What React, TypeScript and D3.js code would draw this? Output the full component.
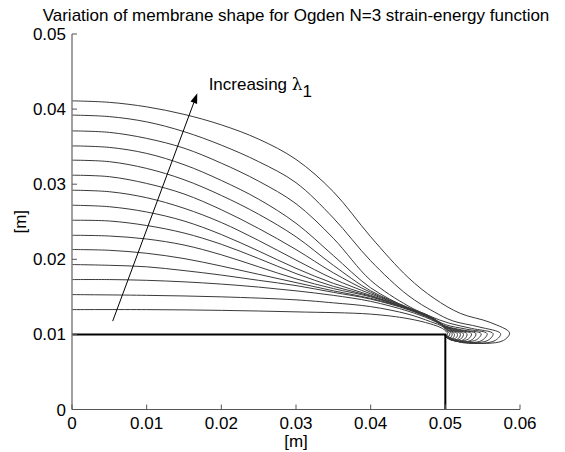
import React from 'react';
import * as d3 from 'd3';

const W = 565;
const H = 452;

const titleText = 'Variation of membrane shape for Ogden N=3 strain-energy function';
const xTicks = [0, 0.01, 0.02, 0.03, 0.04, 0.05, 0.06];
const xTickLabels = ['0', '0.01', '0.02', '0.03', '0.04', '0.05', '0.06'];
const yTicks = [0, 0.01, 0.02, 0.03, 0.04, 0.05];
const yTickLabels = ['0', '0.01', '0.02', '0.03', '0.04', '0.05'];

// clamped base: radius 0.05 at height 0.01
const clampLine: [number, number][] = [[0, 0.01], [0.05, 0.01], [0.05, 0]];
const arrowStart: [number, number] = [0.00545, 0.01177];
const arrowEnd: [number, number] = [0.01678, 0.0421];
const annotationPos: [number, number] = [0.0183, 0.0434];

// membrane profiles (r, z), highest lambda_1 last
const shape15: [number, number][] = [[0,0.0411],[0.005,0.0409],[0.01,0.0403],[0.015,0.0393],[0.02,0.0379],[0.025,0.036],[0.03,0.0333],[0.035,0.029],[0.04,0.023],[0.045,0.0176],[0.0485,0.0148],[0.052,0.0128],[0.056,0.0116],[0.0586,0.0102],[0.0578,0.0092],[0.0555,0.0088],[0.0525,0.009],[0.0506,0.0096],[0.05,0.01]];
const shape14: [number, number][] = [[0,0.0392],[0.005,0.039],[0.01,0.0383],[0.015,0.037],[0.02,0.0352],[0.025,0.033],[0.03,0.0302],[0.035,0.0255],[0.04,0.0198],[0.045,0.0152],[0.0485,0.013],[0.051,0.0118],[0.0545,0.011],[0.0574,0.0101],[0.0567,0.0092],[0.0545,0.0088],[0.0518,0.009],[0.0505,0.0096],[0.05,0.01]];
const shape13: [number, number][] = [[0,0.0371],[0.005,0.0369],[0.01,0.0361],[0.015,0.0348],[0.02,0.0328],[0.025,0.0304],[0.03,0.0274],[0.035,0.0228],[0.04,0.0172],[0.045,0.0138],[0.048,0.0124],[0.0505,0.0115],[0.0535,0.0108],[0.0564,0.0101],[0.0557,0.0092],[0.0538,0.0089],[0.0515,0.0091],[0.0504,0.0096],[0.05,0.01]];
const shape12: [number, number][] = [[0,0.0351],[0.005,0.0349],[0.01,0.0341],[0.015,0.0326],[0.02,0.0305],[0.025,0.028],[0.03,0.0248],[0.035,0.0205],[0.04,0.0162],[0.045,0.0135],[0.048,0.0123],[0.05,0.0113],[0.0528,0.0107],[0.0556,0.0101],[0.0549,0.0092],[0.0532,0.0089],[0.0512,0.0092],[0.0503,0.0096],[0.05,0.01]];
const shape11: [number, number][] = [[0,0.0332],[0.005,0.033],[0.01,0.0321],[0.015,0.0306],[0.02,0.0285],[0.025,0.026],[0.03,0.023],[0.035,0.0192],[0.04,0.0158],[0.045,0.0136],[0.048,0.0124],[0.0498,0.0112],[0.0522,0.0106],[0.0548,0.0101],[0.0542,0.0093],[0.0527,0.009],[0.051,0.0092],[0.0503,0.0096],[0.05,0.01]];
const shape10: [number, number][] = [[0,0.0312],[0.005,0.031],[0.01,0.0301],[0.015,0.0287],[0.02,0.0266],[0.025,0.0241],[0.03,0.0213],[0.035,0.0182],[0.04,0.0156],[0.045,0.0135],[0.048,0.0123],[0.0497,0.0112],[0.0517,0.0106],[0.0541,0.0101],[0.0536,0.0093],[0.0523,0.009],[0.0508,0.0093],[0.0502,0.0096],[0.05,0.01]];
const shape9: [number, number][] = [[0,0.0292],[0.005,0.029],[0.01,0.0282],[0.015,0.0268],[0.02,0.0249],[0.025,0.0225],[0.03,0.0199],[0.035,0.0174],[0.04,0.0154],[0.045,0.0135],[0.048,0.0123],[0.0497,0.0112],[0.0513,0.0106],[0.0535,0.0101],[0.0531,0.0094],[0.0519,0.0091],[0.0507,0.0093],[0.0502,0.0097],[0.05,0.01]];
const shape8: [number, number][] = [[0,0.0272],[0.005,0.027],[0.01,0.0263],[0.015,0.0251],[0.02,0.0233],[0.025,0.0211],[0.03,0.0188],[0.035,0.0168],[0.04,0.0152],[0.045,0.0134],[0.048,0.0122],[0.0497,0.0112],[0.051,0.0106],[0.0529,0.0101],[0.0526,0.0094],[0.0516,0.0091],[0.0506,0.0094],[0.0501,0.0097],[0.05,0.01]];
const shape7: [number, number][] = [[0,0.0252],[0.005,0.0251],[0.01,0.0245],[0.015,0.0235],[0.02,0.022],[0.025,0.0201],[0.03,0.0181],[0.035,0.0164],[0.04,0.0151],[0.045,0.0134],[0.048,0.0122],[0.0497,0.0112],[0.0508,0.0106],[0.0524,0.0101],[0.0522,0.0095],[0.0513,0.0092],[0.0505,0.0094],[0.0501,0.0097],[0.05,0.01]];
const shape6: [number, number][] = [[0,0.0232],[0.005,0.0231],[0.01,0.0227],[0.015,0.0219],[0.02,0.0206],[0.025,0.019],[0.03,0.0174],[0.035,0.0161],[0.04,0.015],[0.045,0.0134],[0.048,0.0122],[0.0497,0.0112],[0.0506,0.0106],[0.052,0.0101],[0.0518,0.0095],[0.051,0.0092],[0.0504,0.0095],[0.0501,0.0098],[0.05,0.01]];
const shape5: [number, number][] = [[0,0.0213],[0.005,0.0212],[0.01,0.0208],[0.015,0.0201],[0.02,0.0191],[0.025,0.018],[0.03,0.0169],[0.035,0.0158],[0.04,0.0148],[0.045,0.0134],[0.048,0.0122],[0.0497,0.0112],[0.0504,0.0106],[0.0516,0.0101],[0.0515,0.0096],[0.0508,0.0093],[0.0503,0.0095],[0.0501,0.0098],[0.05,0.01]];
const shape4: [number, number][] = [[0,0.0193],[0.005,0.0192],[0.01,0.019],[0.015,0.0185],[0.02,0.0179],[0.025,0.0172],[0.03,0.0165],[0.035,0.0156],[0.04,0.0147],[0.045,0.0133],[0.048,0.0121],[0.0497,0.0112],[0.0503,0.0106],[0.0512,0.0101],[0.0511,0.0096],[0.0506,0.0094],[0.0502,0.0096],[0.05,0.0098],[0.05,0.01]];
const shape3: [number, number][] = [[0,0.0173],[0.005,0.0173],[0.01,0.0172],[0.015,0.017],[0.02,0.0167],[0.025,0.0163],[0.03,0.0158],[0.035,0.0152],[0.04,0.0144],[0.045,0.0131],[0.048,0.012],[0.0497,0.0111],[0.0502,0.0106],[0.0509,0.0101],[0.0508,0.0097],[0.0504,0.0095],[0.0501,0.0097],[0.05,0.0099],[0.05,0.01]];
const shape2: [number, number][] = [[0,0.0153],[0.01,0.0152],[0.02,0.015],[0.03,0.0146],[0.035,0.0142],[0.04,0.0137],[0.045,0.0127],[0.048,0.0117],[0.0497,0.011],[0.0501,0.0105],[0.0506,0.0101],[0.0505,0.0098],[0.0502,0.0097],[0.05,0.0099],[0.05,0.01]];
const shape1: [number, number][] = [[0,0.0133],[0.01,0.0133],[0.02,0.0132],[0.03,0.013],[0.04,0.0127],[0.045,0.0121],[0.048,0.0114],[0.0496,0.0108],[0.0501,0.0104],[0.0503,0.0101],[0.0502,0.0099],[0.05,0.0099],[0.05,0.01]];

const shapes = [shape1, shape2, shape3, shape4, shape5, shape6, shape7, shape8, shape9, shape10, shape11, shape12, shape13, shape14, shape15];

const FONT = 'Liberation Sans, Arial, Helvetica, sans-serif';

export default function App() {
  const x = d3.scaleLinear().domain([0, 0.06]).range([72, 520]);
  const y = d3.scaleLinear().domain([0, 0.05]).range([409.5, 34]);

  const curveGen = d3
    .line<[number, number]>()
    .x((d) => x(d[0]))
    .y((d) => y(d[1]))
    .curve(d3.curveCatmullRom.alpha(0.5));
  const straight = d3
    .line<[number, number]>()
    .x((d) => x(d[0]))
    .y((d) => y(d[1]));

  const ax0 = x(arrowStart[0]);
  const ay0 = y(arrowStart[1]);
  const ax1 = x(arrowEnd[0]);
  const ay1 = y(arrowEnd[1]);
  const ang = Math.atan2(ay1 - ay0, ax1 - ax0);
  const hl = 10;
  const hw = 3.5;
  const bx = ax1 - hl * Math.cos(ang);
  const by = ay1 - hl * Math.sin(ang);
  const head = [
    [ax1, ay1],
    [bx + hw * Math.sin(ang), by - hw * Math.cos(ang)],
    [bx - hw * Math.sin(ang), by + hw * Math.cos(ang)],
  ]
    .map((p) => p.join(','))
    .join(' ');

  const x0 = x(0);
  const y0 = y(0);

  return (
    <svg
      width={W}
      height={H}
      style={{ position: 'absolute', left: 0, top: 0, background: '#fff' }}
      fontFamily={FONT}
    >
      <rect x={0} y={0} width={W} height={H} fill="#fff" />
      <text x={296} y={21} textAnchor="middle" fontSize={17} fill="#000">
        {titleText}
      </text>

      {shapes.map((s, i) => (
        <path key={i} d={curveGen(s) || ''} fill="none" stroke="#3a3a3a" strokeWidth={1} />
      ))}

      <path d={straight(clampLine) || ''} fill="none" stroke="#000" strokeWidth={2} />

      {/* axes */}
      <line x1={x0} y1={y0} x2={x(0.06)} y2={y0} stroke="#555" strokeWidth={1.2} />
      <line x1={x0} y1={y0} x2={x0} y2={y(0.05)} stroke="#777" strokeWidth={1.4} />
      {xTicks.map((t, i) => (
        <g key={'xt' + i}>
          <line x1={x(t)} x2={x(t)} y1={y0} y2={y0 - 5} stroke="#555" strokeWidth={1} />
          <text x={x(t)} y={y0 + 19} textAnchor="middle" fontSize={17} fill="#000">
            {xTickLabels[i]}
          </text>
        </g>
      ))}
      {yTicks.map((t, i) => (
        <g key={'yt' + i}>
          <line x1={x0} x2={x0 + 5} y1={y(t)} y2={y(t)} stroke="#555" strokeWidth={1} />
          <text x={x0 - 6} y={y(t) + 6} textAnchor="end" fontSize={17} fill="#000">
            {yTickLabels[i]}
          </text>
        </g>
      ))}
      <text x={(x0 + x(0.06)) / 2} y={447} textAnchor="middle" fontSize={17} fill="#000">
        [m]
      </text>
      <text
        transform={`translate(26,${(y0 + y(0.05)) / 2}) rotate(-90)`}
        textAnchor="middle"
        fontSize={17}
        fill="#000"
      >
        [m]
      </text>

      {/* annotation arrow */}
      <line x1={ax0} y1={ay0} x2={bx} y2={by} stroke="#000" strokeWidth={1} />
      <polygon points={head} fill="#000" />
      <text x={x(annotationPos[0])} y={y(annotationPos[1]) + 6} fontSize={17} fill="#000">
        Increasing{' '}
        <tspan fontFamily="DejaVu Serif, serif">λ</tspan>
        <tspan dy={7} fontSize={17}>1</tspan>
      </text>
    </svg>
  );
}
